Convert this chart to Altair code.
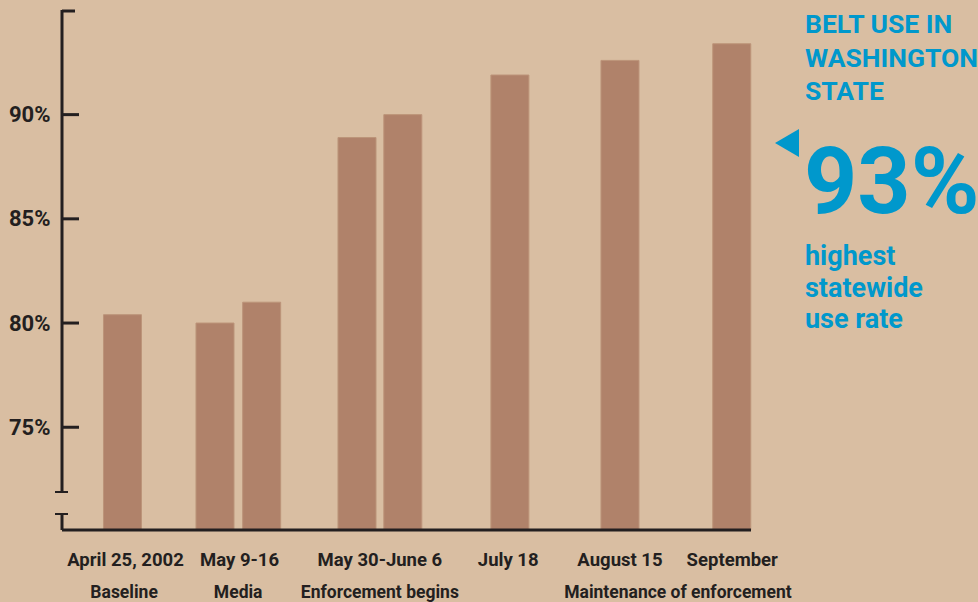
import altair as alt
import pandas as pd

# ---- data ----
bar_pos = [1.315, 3.326, 4.341, 6.413, 7.409, 9.737, 12.13, 14.56]
bar_values = [80.4, 80.0, 81.0, 88.9, 90.0, 91.9, 92.6, 93.4]

date_labels = ["April 25, 2002", "May 9-16", "May 30-June 6", "July 18", "August 15", "September"]
date_pos = [1.38, 3.86, 6.91, 9.70, 12.13, 14.57]

phase_labels = ["Baseline", "Media", "Enforcement begins", "Maintenance of enforcement"]
phase_pos = [1.35, 3.83, 6.91, 13.39]

y_ticks = [75, 80, 85, 90]

title_lines = ["BELT USE IN", "WASHINGTON", "STATE"]
big_number = "93%"
sub_lines = ["highest", "statewide", "use rate"]

# ---- styling ----
BG = "#D9BEA2"
BAR = "#B0826A"
BAR_EDGE = "#BC9479"
INK = "#231F20"
BLUE = "#0098CC"
FONT = "Roboto"

W, H = 690, 520
XDOM = [0, 15]
YDOM = [70.07, 95.02]

bars_df = pd.DataFrame({"pos": bar_pos, "value": bar_values})
dates_df = pd.DataFrame({"pos": date_pos, "label": date_labels})
phases_df = pd.DataFrame({"pos": phase_pos, "label": phase_labels})
ticks_df = pd.DataFrame({"v": y_ticks})
one = pd.DataFrame({"k": [0]})

xs = alt.Scale(domain=XDOM, padding=0, nice=False, zero=False)
ys = alt.Scale(domain=YDOM, zero=False, nice=False, padding=0)

bars = alt.Chart(bars_df).mark_bar(size=38, color=BAR, stroke=BAR_EDGE, strokeWidth=1).encode(
    x=alt.X("pos:Q", scale=xs, axis=None),
    y=alt.Y("value:Q", scale=ys, axis=alt.Axis(
        values=y_ticks, labelExpr="datum.value + '%'", domain=False, ticks=False,
        grid=False, tickSize=0, labelPadding=12, labelFontSize=22, labelFont=FONT,
        labelFontWeight="bold", labelColor=INK, title=None)),
    y2=alt.datum(YDOM[0]),
)

def seg(strokeWidth=3, **enc):
    return alt.Chart(one).mark_rule(color=INK, strokeWidth=strokeWidth).encode(**enc)

axis_top = seg(x=alt.value(0), y=alt.value(0), y2=alt.value(482))
axis_bot = seg(x=alt.value(0), y=alt.value(504), y2=alt.value(H))
break1 = seg(2, x=alt.value(-7), x2=alt.value(6), y=alt.value(482))
break2 = seg(2, x=alt.value(-7), x2=alt.value(6), y=alt.value(504))
top_tick = seg(x=alt.value(0), x2=alt.value(13), y=alt.value(1))
x_axis = seg(x=alt.value(0), x2=alt.value(689), y=alt.value(H))
val_ticks = alt.Chart(ticks_df).mark_rule(color=INK, strokeWidth=3).encode(
    x=alt.value(0), x2=alt.value(17), y=alt.Y("v:Q", scale=ys))

dates = alt.Chart(dates_df).mark_text(
    font=FONT, fontSize=18.5, fontWeight="bold", color=INK, align="center", baseline="alphabetic"
).encode(x=alt.X("pos:Q", scale=xs), y=alt.value(556), text="label:N")

phases = alt.Chart(phases_df).mark_text(
    font=FONT, fontSize=17.5, fontWeight="bold", color=INK, align="center", baseline="alphabetic"
).encode(x=alt.X("pos:Q", scale=xs), y=alt.value(588), text="label:N")

title_txt = alt.Chart(one).mark_text(
    font=FONT, fontSize=26.5, fontWeight="bold", color=BLUE, align="left", baseline="alphabetic",
    lineHeight=33.5
).encode(x=alt.value(743), y=alt.value(23), text=alt.value(title_lines))

big_txt = alt.Chart(one).mark_text(
    font=FONT, fontSize=93, fontWeight="bold", color=BLUE, align="left", baseline="alphabetic"
).encode(x=alt.value(742), y=alt.value(203), text=alt.value(big_number))

arrow = alt.Chart(one).mark_point(
    shape="M 0.857 -1 L -0.857 0 L 0.857 1 Z", filled=True, color=BLUE, opacity=1, size=784
).encode(x=alt.value(725), y=alt.value(133))

sub_txt = alt.Chart(one).mark_text(
    font=FONT, fontSize=27, fontWeight="bold", color=BLUE, align="left", baseline="alphabetic",
    lineHeight=31.5
).encode(x=alt.value(743), y=alt.value(255), text=alt.value(sub_lines))

chart = alt.layer(
    bars, axis_top, axis_bot, break1, break2, top_tick, val_ticks, x_axis,
    dates, phases, title_txt, big_txt, arrow, sub_txt
).properties(
    width=W, height=H,
    autosize=alt.AutoSizeParams(type="none"),
    padding={"left": 62, "top": 10, "right": 226, "bottom": 72},
    background=BG,
).configure_view(stroke=None)

chart.save("out.html", embed_options={"renderer": "svg", "actions": False})
